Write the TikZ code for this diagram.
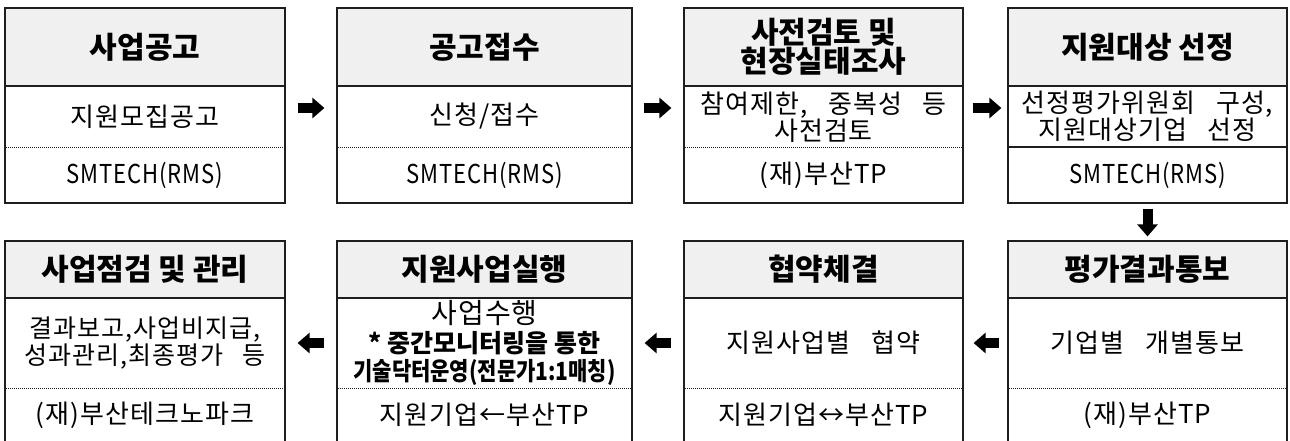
\documentclass[tikz,border=0pt]{standalone}
\usepackage{fontspec}
\setmainfont{Noto Sans CJK KR}
\newfontfamily\krbody[WordSpace=3,LetterSpace=4]{Noto Sans CJK KR}
\usepackage{xcolor}
\usepackage{tikz}
\usetikzlibrary{arrows.meta, positioning}

\definecolor{hdrgray}{RGB}{240,240,240}
\definecolor{lineblk}{RGB}{30,30,30}

\begin{document}
\begin{tikzpicture}[x=1pt, y=-1pt,
    frame/.style={draw=lineblk, line width=1.2pt, inner sep=0pt},
    hdr/.style={draw=lineblk, line width=1.2pt, fill=hdrgray, inner sep=0pt, align=center,
        font=\fontsize{30pt}{28pt}\selectfont\bfseries},
    body/.style={inner sep=0pt, align=center, font=\krbody\fontsize{26pt}{25pt}\selectfont},
    dotsep/.style={lineblk, line width=0.8pt, dash pattern=on 1pt off 1pt},
    solsep/.style={lineblk, line width=1.2pt},
    arr/.style={line width=10pt, -{Triangle[length=12pt, width=20pt]}}]
    \useasboundingbox (0,0) rectangle (1290,440);

    % Draw top row of boxes
    \foreach \n/\cx/\w/\sp/\txt in {1/145/280/dotsep/{사업공고}, 2/484.5/295/dotsep/{공고접수},
        3/823.5/279/dotsep/{사전검토 및\\현장실태조사}, 4/1147.5/279/solsep/{지원대상 선정}} {
        \node[hdr, minimum width=\w pt, minimum height=78pt] (th\n) at (\cx,47) {\txt};
        \node[frame, minimum width=\w pt, minimum height=195pt] (tf\n) at (\cx,105.5) {};
        \draw[\sp] (tf\n.west |- 0,147) -- (tf\n.east |- 0,147);
    }

    % Draw bottom row of boxes (cut by the page edge)
    \foreach \n/\cx/\w/\txt in {1/145/280/{사업점검 및 관리}, 2/484.5/295/{지원사업실행},
        3/823.5/279/{협약체결}, 4/1147.5/279/{평가결과통보}} {
        \node[hdr, minimum width=\w pt, minimum height=57pt] (bh\n) at (\cx,269.5) {\txt};
        \node[frame, minimum width=\w pt, minimum height=201pt] (bf\n) at (\cx,341.5) {};
        \draw[dotsep] (bf\n.west |- 0,388) -- (bf\n.east |- 0,388);
    }

    % Top row texts
    \node[body] (tb1) at (145,116.5) {지원모집공고};
    \node[body] (tb2) at (484.5,116.5) {신청/접수};
    \node[body] (tb3) at (823.5,117) {참여제한, 중복성 등\\사전검토};
    \node[body] (tb4) at (1147.5,116.5) {선정평가위원회 구성,\\지원대상기업 선정};
    \node[body] (tt1) at (145,175) {\scalebox{0.85}[1]{SMTECH(RMS)}};
    \node[body] (tt2) at (484.5,175) {\scalebox{0.85}[1]{SMTECH(RMS)}};
    \node[body] (tt3) at (823.5,175) {(재)부산TP};
    \node[body] (tt4) at (1147.5,175) {\scalebox{0.85}[1]{SMTECH(RMS)}};

    % Bottom row texts
    \node[body, font=\krbody\fontsize{25pt}{25pt}\selectfont] (bb1) at (145,343)
        {결과보고,사업비지급,\\성과관리,최종평가 등};
    \node[body, font=\krbody\fontsize{25pt}{28.5pt}\selectfont] (bb2) at (484.5,343)
        {{\fontsize{28pt}{28pt}\selectfont 사업수행}\\ \rmfamily\bfseries * 중간모니터링을 통한\\
         \scalebox{0.84}[1]{\rmfamily\bfseries 기술닥터운영(전문가1:1매칭)}};
    \node[body] (bb3) at (823.5,343) {지원사업별 협약};
    \node[body] (bb4) at (1147.5,343) {기업별 개별통보};
    \node[body] (bt1) at (145,415) {(재)부산테크노파크};
    \node[body] (bt2) at (484.5,415) {지원기업←부산TP};
    \node[body] (bt3) at (823.5,415) {지원기업↔부산TP};
    \node[body] (bt4) at (1147.5,415) {(재)부산TP};

    % Block arrows between steps
    \draw[arr, shorten <=12pt, shorten >=12pt] ([yshift=-2.5pt]tf1.east) -- ([yshift=-2.5pt]tf2.west);
    \draw[arr, shorten <=11pt, shorten >=12pt] ([yshift=-2.5pt]tf2.east) -- ([yshift=-2.5pt]tf3.west);
    \draw[arr, shorten <=9pt, shorten >=6pt] ([yshift=-2.5pt]tf3.east) -- ([yshift=-2.5pt]tf4.west);
    \draw[arr, shorten <=5pt, shorten >=4pt] (tf4.south) -- (bh4.north);
    \draw[arr, shorten <=8pt, shorten >=10pt] ([yshift=-1.5pt]bf4.west) -- ([yshift=-1.5pt]bf3.east);
    \draw[arr, shorten <=12pt, shorten >=12pt] ([yshift=-1.5pt]bf3.west) -- ([yshift=-1.5pt]bf2.east);
    \draw[arr, shorten <=12pt, shorten >=12pt] ([yshift=-1.5pt]bf2.west) -- ([yshift=-1.5pt]bf1.east);
\end{tikzpicture}
\end{document}
